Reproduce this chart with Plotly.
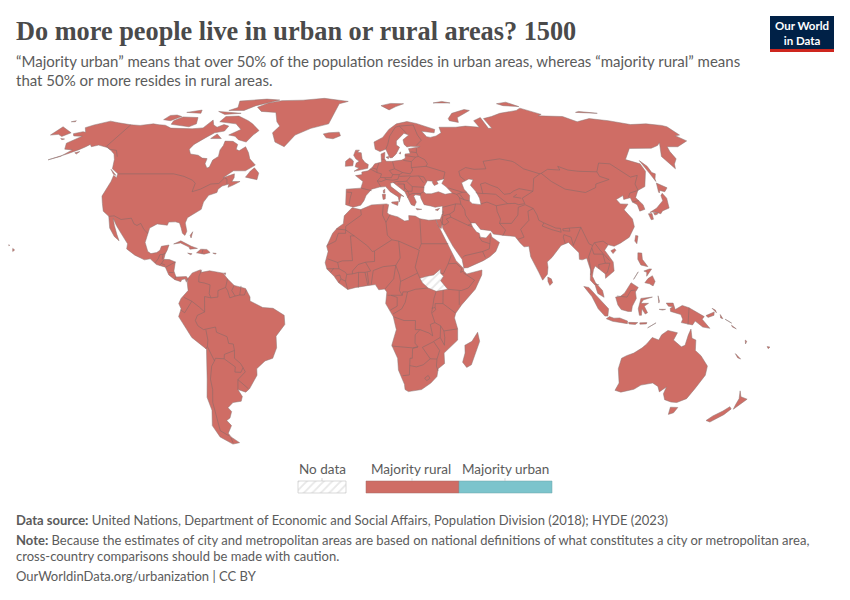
import numpy as np
import plotly.graph_objects as go

# outlines are (lon, lat)
north_america = [(-168,65.6),(-164,66.5),(-162,66.2),(-166,68.3),(-163,69.5),(-156.5,71.3),(-150,70.5),(-141,69.6),(-135,69.3),(-128,70),(-124,69.6),(-120,69.4),(-115,68.1),(-108,68),(-102,67.8),(-96,68.2),(-94,71.8),(-91,69.5),(-88,68.5),(-85,69.7),(-81.5,69),(-82,66.8),(-87,66),(-90,64),(-94,61),(-94.8,59),(-92.5,57),(-88,56.5),(-85,55.3),(-82.3,55.1),(-82,53),(-80,51.3),(-79,51.7),(-79,54.5),(-77,56),(-78,58.7),(-77.5,60.5),(-78,62.4),(-73.5,62.3),(-70,61),(-69.5,59),(-67.5,58.3),(-65,60),(-62,57.5),(-60,55),(-56,52.5),(-60,50.2),(-66,50.2),(-70,47.5),(-65,49),(-64.5,47.5),(-65,46),(-61,46),(-64,44.5),(-66,43.7),(-66,45),(-69,44.2),(-70.5,43),(-70.5,41.7),(-74,40.6),(-75.5,38),(-75.6,35.2),(-78,33.9),(-81,32),(-81.4,30),(-80,26.8),(-80.5,25.2),(-81.8,26),(-82.8,28),(-84,30),(-86,30.4),(-89,30.3),(-89.3,29.1),(-91,29.3),(-94,29.6),(-97,28),(-97.5,25),(-97.8,22.5),(-96,19),(-94.5,18.2),(-92,18.6),(-90.7,19.5),(-90.3,21),(-87,21.5),(-87.5,19.5),(-88.2,18),(-88.5,16),(-86,15.9),(-83.3,15),(-83.6,11.5),(-82.5,9.2),(-80,9.2),(-78,9.4),(-77.3,8.6),(-78,7.5),(-78.5,8.5),(-80,8.2),(-80.3,7.4),(-83,8.2),(-85.7,10),(-87.5,13),(-91.5,14),(-94.5,16.2),(-97,15.8),(-101.5,17.6),(-105.5,20),(-105.5,22),(-109,25.7),(-112.3,29),(-114.7,31.7),(-113.2,29),(-111,25.5),(-109.5,23.1),(-112,24.8),(-115,28),(-117.1,32.5),(-120.5,34.5),(-122.5,37.5),(-124.3,40.3),(-124,46),(-124.6,48.4),(-122.5,47.5),(-123,49),(-127.5,51),(-130.2,54.7),(-133,57),(-136.5,58.5),(-140,59.7),(-146,60.7),(-149,60),(-151,61),(-152,60),(-154,58.8),(-158,57),(-164.5,54.6),(-160,56),(-157.5,58.7),(-162,59),(-165,61.5),(-163,63.2),(-161,64.5),(-166,64.6)]
greenland = [(-73,78.2),(-68,76),(-58,75.5),(-54,71),(-51,69),(-53.5,66),(-50,62),(-44,60),(-40,65),(-32,68),(-22,70),(-20,75),(-18,80),(-12,81.5),(-30,83.5),(-45,82.3),(-60,82),(-68,80.5)]
baffin = [(-80,73.7),(-72,71.5),(-68,70),(-62,67),(-64,65),(-66,62),(-71,63),(-74,64.5),(-78,65),(-73,67.5),(-78,70),(-89,71),(-88,73.5)]
victoria_island = [(-117,69.8),(-105,68.7),(-102,70),(-105,73),(-115,73.3),(-118,71.5)]
banks_island = [(-125,72),(-120,71.5),(-116,73.5),(-120,74.2),(-124,74)]
ellesmere = [(-90,76.5),(-80,76.5),(-75,79),(-62,82.4),(-72,83),(-90,81.7),(-86,78)]
devon_island = [(-96,76),(-80,75),(-90,74.5)]
melville_island = [(-116,75.5),(-106,75),(-108,76.7)]
southampton = [(-85,65.5),(-81,63.5),(-87,63.5)]
newfoundland = [(-59,47.7),(-53,46.7),(-53,49.3),(-56,51.4),(-57.5,50)]
vancouver_island = [(-128,50.8),(-123.5,48.4),(-125,48.8)]
kodiak = [(-154.5,57.5),(-152.5,58),(-153,57)]
st_lawrence = [(-171.5,63.5),(-169,63.3),(-170,63)]
cuba = [(-85,21.9),(-82,23.1),(-77,21),(-74.2,20.2),(-77.5,19.9),(-78,20.7),(-82,22.3)]
hispaniola = [(-74.4,18.5),(-72.7,19.9),(-70,19.8),(-68.4,18.6),(-71,18),(-72,18.2)]
jamaica = [(-78.3,18.4),(-76.3,18.1),(-77,17.8)]
puerto_rico = [(-67.2,18.4),(-65.7,18.3),(-66,18)]
bahamas = [(-78.2,25.2),(-77.3,26.6),(-77.6,24.2)]
trinidad = [(-61.8,10.7),(-60.9,10.8),(-61,10.1)]
hawaii = [(-156,20.2),(-155,19.6),(-155.7,19)]
oahu = [(-158.2,21.6),(-157.7,21.4),(-158,21.2)]
chukotka_west = [(-180,68.7),(-175,67.3),(-170,66),(-172.5,64.4),(-176,65.3),(-180,65)]
wrangel = [(-180,71),(-178,71.5),(-177.5,71)]
iceland = [(-24,65.5),(-22,63.8),(-18,63.4),(-14,64.7),(-15,66.3),(-21,66)]
south_america = [(-77.3,8.6),(-75.5,10.8),(-72,12),(-71.5,11),(-68,11.6),(-62,10.7),(-60,8.5),(-57,6),(-52,4.8),(-50,1.5),(-50,0),(-44.5,-2.5),(-40,-2.8),(-35.2,-5.5),(-35,-9),(-39,-13.5),(-39,-18),(-41,-22),(-44.5,-23),(-48.5,-26),(-48.7,-28.5),(-53,-33.7),(-55,-35),(-58.4,-34),(-57,-36.7),(-58,-38.5),(-62,-39),(-65,-41),(-63.8,-42.5),(-65.5,-45),(-67.5,-46),(-66,-48),(-69,-51),(-68.4,-52.5),(-65.2,-54.8),(-69,-55.4),(-74,-52.5),(-75.5,-48),(-73,-42),(-73.5,-37),(-71.5,-30),(-70,-18.5),(-76,-14),(-81.2,-6),(-80,-3),(-81,-1),(-80,1),(-77,4),(-77.5,7)]
africa = [(-6,35.8),(-2,35.1),(3,36.9),(10,37.3),(11,37),(10.2,34),(11,33.2),(15,32.3),(18,30.7),(20,31),(20,32.8),(23,32.6),(25,31.6),(29,31),(32.3,31.2),(32.6,30),(33.7,27.8),(35.5,24),(37.2,21),(38.5,18),(40,15.5),(43.2,12.5),(43.2,11.5),(44.5,10.4),(51.2,11.9),(51,10),(48,4.5),(42,-1.5),(39.5,-4.7),(39,-6.5),(40.5,-10.7),(40.7,-15),(35,-20),(35.5,-24),(32.8,-26),(32.5,-29),(30,-31.5),(26,-34),(20,-34.8),(18.4,-34),(18,-32),(15,-26.5),(14.5,-22),(11.8,-17),(13.7,-11),(12.3,-6),(9,-1),(9.5,3.5),(8.5,4.6),(6,4.3),(4.5,6.3),(1,5.9),(-4,5.2),(-7.5,4.4),(-11.5,7),(-13.5,9.5),(-16.7,12.3),(-17.5,14.7),(-16.3,19),(-17,21),(-14.5,26),(-12.5,28),(-9.8,29.7),(-9.5,32.7)]
madagascar = [(49.3,-12),(50.4,-15.5),(47.5,-24.5),(45.5,-25.5),(43.5,-23.5),(44.3,-20),(44,-17),(47,-15.5)]
eurasia = [(-9,37),(-9,38.7),(-9,43),(-2,43.4),(-1.2,45),(-1,46),(-4.7,48.3),(-1.5,48.7),(-1.6,49.7),(1.5,50.2),(3.5,51.4),(5,53),(8.5,53.7),(8.5,57),(10.6,57.7),(10.2,55),(11,54),(14,54),(19,54.5),(21,55.2),(21.2,57),(24,57.2),(23.5,59.2),(28,59.7),(30,60),(25,60.2),(22.8,59.9),(21.5,61),(21.3,63),(25,65),(22.5,65.8),(17.5,62.5),(17.2,60.7),(18.8,59.8),(16.5,57),(14.3,55.5),(13,55.4),(11.2,59),(8,58),(5.5,59),(5,62),(10,64),(14,67.5),(19,70),(25.7,71.1),(31,70.2),(41,67.5),(40,66),(35,66.5),(33,66.7),(35,64.3),(37,64),(40.5,64.6),(44,66),(44,68.5),(54,68.5),(60,69),(68,68.5),(67,71.5),(72.5,73),(73,68),(75,68),(74,72.5),(80,73.5),(87,75),(100,76.5),(104.3,77.7),(113,74.5),(110,73.8),(125,73.5),(130,71),(140,72.5),(150,71.5),(160,69.7),(170,70),(178,69.3),(180,68.7),(180,65),(177,64.7),(179.5,62.5),(170.3,60),(164.5,60),(163,58),(162,55),(158.5,52.9),(156.7,51),(155.7,56),(158,58),(163,61.7),(160,60.5),(155,59.4),(143,59.3),(135.3,54.7),(141,53),(140.5,50),(135,44),(132,43),(130.5,42.5),(127.5,39.7),(129.4,37),(129.2,35.2),(126.5,34.5),(126.7,37),(125,38),(125,39.7),(121.5,39),(122,40.5),(118,39),(119,37.3),(122.5,37.2),(119.5,35),(121.8,31.5),(121.5,28.5),(118,24.5),(113.5,22.2),(110.5,21),(108,21.6),(106,19.5),(109,15),(109,11.5),(105,8.7),(105,10.4),(102.5,12.3),(100.9,13.4),(100,12),(99.3,9.5),(100.5,7),(103.4,4),(104,1.4),(101.3,2.9),(100.3,6),(98.3,8),(98.7,12),(97.6,16.4),(95.5,15.8),(94.3,16),(94.5,18.5),(92,21.2),(90.5,22.5),(87,21.3),(85,19.5),(82.3,16.7),(80,15),(80.2,13),(79.7,10.3),(77.5,8),(76,11),(73,17),(72.7,21),(70.5,20.8),(69,22.3),(67,24.8),(62,25.2),(57.5,25.7),(56.5,27),(52,27.5),(50,30),(48,30),(48.5,28.5),(50,26.5),(51.2,26),(51.5,24.5),(54,24.2),(56.3,26.2),(56.7,24.5),(59.8,22.5),(57.8,19),(55,17),(52,15.5),(45,12.8),(43.3,12.7),(42.7,16),(39,21),(35,28),(34.9,29.5),(34.3,27.8),(33.2,28.5),(32.6,30),(32.3,31.2),(34.2,31.3),(35.5,33.5),(36,36.5),(32.5,36),(30.5,36.5),(27.5,37),(26.3,39.5),(26.2,40.5),(24,40.8),(23,40.3),(24,38),(23,36.5),(21.5,37),(19.4,41),(19,42),(13.7,45.6),(12.3,45.3),(12.5,44),(16,41.8),(18.4,40.1),(17,40.5),(16.7,39.7),(16,38),(15.7,40),(12,42),(10,44),(7,43.8),(3.2,43),(0.5,40.5),(-0.5,38.5),(-2,36.8),(-5.5,36)]
great_britain = [(-5.5,50),(1.4,51.2),(1.7,52.7),(0,53.5),(-1.5,55),(-2,57.5),(-4,57.7),(-3,58.6),(-5,58.6),(-6,56.5),(-4.8,55),(-3,54),(-4.5,53.3),(-5,51.8),(-3,51.3)]
ireland = [(-10,52),(-6.2,52.2),(-6,54),(-8,55.3),(-10,54)]
zealand = [(11,55.7),(12.5,56),(12.2,55)]
gotland = [(18.2,57.2),(19,57.9),(18.8,57)]
sicily = [(12.5,38),(15.6,38.2),(15.2,36.7),(12.5,37.6)]
sardinia = [(8.2,41),(9.7,41),(9.5,39.2),(8.5,39)]
corsica = [(8.7,42.5),(9.5,43),(9.4,41.5),(8.8,41.5)]
crete = [(23.6,35.5),(26.2,35.2),(24,35)]
cyprus = [(32.4,35),(34.5,35.6),(33.5,34.7)]
svalbard = [(11,79),(16,76.8),(21,78.5),(27,80),(18,80.2)]
novaya_zemlya = [(52,71.5),(57,70.7),(58,73),(69,76.5),(66,77),(56,75),(52,72.5)]
severnaya_zemlya = [(95,79),(105,78.5),(100,81),(92,80)]
new_siberian = [(137,75.5),(145,75),(150,75),(140,76)]
franz_josef = [(48,80.5),(60,80.5),(55,81.5)]
sakhalin = [(142,54.3),(143.5,52),(143.2,49.5),(144.5,49),(142.5,47),(142,46),(141.8,49),(142,53)]
hokkaido = [(140,42),(141.7,45.4),(145.3,43.5),(143,42),(141,42.5),(140,41.5)]
honshu = [(130.9,34),(135,35.7),(137,37),(139.5,38.5),(140,40.5),(141.3,41.4),(142,39.5),(141,37),(140.7,35.7),(137,34.6),(135.7,33.5),(133,34.3)]
kyushu = [(130,33.5),(131.7,33.6),(131.3,31.4),(130.2,31.2)]
shikoku = [(132.5,34),(134.6,34),(134,33.3),(132.7,33)]
taiwan = [(121,25.2),(122,25),(120.8,22),(120.1,23)]
hainan = [(108.7,19.3),(110.5,20.1),(111,19.5),(109.5,18.2)]
sri_lanka = [(79.8,9.2),(81.3,8.5),(81.8,7),(80.5,6),(79.8,7.5)]
luzon = [(120.5,18.5),(122.2,18.4),(122,16),(124,13.2),(121,13.8),(120,16)]
mindanao = [(122,7),(123.5,8.6),(125.5,9.7),(126.5,7.5),(125.5,5.8),(124,6.6)]
visayas = [(122,11.5),(123.2,11),(123,9.5),(124.5,11),(125.5,12.3),(124.5,12.3)]
palawan = [(117.2,8.3),(119.5,11.2),(119,10.3)]
sumatra = [(95.3,5.6),(97.5,5.2),(100.5,2.2),(103.8,-1),(106,-3),(105.8,-5.8),(104.5,-5.8),(101.5,-3),(98.7,1.7)]
java = [(105.2,-6.8),(106.5,-6),(108.5,-6.6),(111,-6.5),(114.5,-7.7),(114.5,-8.7),(108,-7.8)]
borneo = [(109,1.5),(111,1.7),(113,3.1),(116,7),(119,5.2),(117.7,3.5),(118,1),(116.3,-2),(116,-4),(114.5,-4),(111.5,-3.3),(110,-1.5)]
sulawesi = [(120,1),(125,1.5),(121,0.4),(120,-0.9),(123.3,-0.9),(121.5,-2),(123,-4.5),(122,-5),(120.5,-3),(120.4,-5.5),(119.5,-5.5),(118.9,-3),(119.7,0)]
flores = [(119.9,-8.4),(123,-8.3),(122.8,-8.8),(120,-8.9)]
sumbawa = [(115,-8.2),(119,-8.3),(118,-9),(115.2,-8.8)]
timor = [(123.5,-10.3),(127,-8.4),(125,-9.5)]
halmahera = [(127.5,2),(128,0),(127.8,-0.8)]
seram = [(128,-3.2),(130.8,-3.2),(129.5,-3.5)]
new_guinea = [(131,-0.8),(134,-0.8),(135,-3.3),(138,-1.7),(141,-2.6),(145,-4.5),(147.8,-6),(147,-7),(150.7,-10.5),(147.5,-10),(144,-7.7),(143,-9.2),(138,-8.3),(138.5,-7),(137.5,-5.2),(133,-4),(132.8,-2.8),(134,-2.2),(132,-2)]
new_britain = [(148.5,-5.6),(152,-4.2),(152,-5.5),(149.5,-6.3)]
new_ireland = [(151,-2.8),(153,-4.5),(152.5,-3.5)]
bougainville = [(154.7,-5.2),(156,-6.8),(155,-6.5)]
solomon_a = [(157,-7),(160,-8.5),(159,-8.2)]
solomon_b = [(160,-9.3),(162.3,-10.7),(160.5,-10)]
vanuatu = [(167,-15),(167.5,-16.5),(167.8,-15.5)]
new_caledonia = [(164,-20.2),(167,-22.3),(165.5,-21.8)]
fiji = [(177.3,-17.5),(178.6,-17.7),(178,-18.3)]
australia = [(114,-22),(113.5,-26),(115.7,-31.5),(115,-34.3),(118,-35),(123.5,-33.9),(126,-32.3),(131,-31.5),(134,-32.8),(135.7,-34.9),(138,-33),(138,-35.6),(140,-37.9),(143.5,-38.8),(146.4,-39),(150,-37.5),(151.5,-33.5),(153.5,-28.5),(153,-25),(149,-21),(146,-19),(145.3,-15),(143.5,-14.3),(142.5,-10.8),(141.7,-13),(141,-17),(139.5,-17.6),(135.5,-15),(136.8,-12.2),(132.5,-11.3),(130,-13),(129,-15),(126,-14),(124,-16.5),(122.3,-18),(119,-20),(116,-21)]
tasmania = [(144.7,-40.8),(148.3,-40.9),(148,-43),(146,-43.6)]
nz_north = [(172.7,-34.5),(174.8,-36.8),(178.4,-37.7),(177,-39.5),(175.3,-41.6),(174.7,-39.8),(174.5,-37.5)]
nz_south = [(172.7,-40.6),(174.2,-41.5),(172.8,-43.7),(171,-45),(169,-46.6),(166.5,-46),(168,-44.2),(171,-42.3)]

land = [north_america, greenland, baffin, victoria_island, banks_island, ellesmere, devon_island,
        melville_island, southampton, newfoundland, vancouver_island, kodiak, st_lawrence, cuba,
        hispaniola, jamaica, puerto_rico, bahamas, trinidad, hawaii, oahu, chukotka_west, wrangel,
        iceland, south_america, africa, madagascar, eurasia, great_britain, ireland, zealand, gotland,
        sicily, sardinia, corsica, crete, cyprus, svalbard, novaya_zemlya, severnaya_zemlya,
        new_siberian, franz_josef, sakhalin, hokkaido, honshu, kyushu, shikoku, taiwan, hainan,
        sri_lanka, luzon, mindanao, visayas, palawan, sumatra, java, borneo, sulawesi, flores, sumbawa,
        timor, halmahera, seram, new_guinea, new_britain, new_ireland, bougainville, solomon_a,
        solomon_b, vanuatu, new_caledonia, fiji, australia, tasmania, nz_north, nz_south]

black_sea = [(28,42),(29,41.2),(31.5,41.2),(35,42),(38,41),(41.5,41.5),(39,44),(37.3,45.2),(39,47.1),(35,46.2),(35.5,45.1),(33.5,44.4),(32.8,45.5),(33,46.1),(30.5,46.3),(28.5,44)]
caspian_sea = [(47,45.5),(51,47),(53,46.7),(51,44.5),(53,42),(53.9,39.5),(54,37),(50,37.4),(48.9,38.4),(49.5,40.5),(47.5,43)]
water = [black_sea, caspian_sea]

south_sudan = [(24,8.7),(27,9.5),(30,10),(33,12.2),(33,10.7),(34.3,9.5),(33,7.8),(36,4.5),(34,4.2),(31,3.7),(27.5,5),(25,7)]

borders_north_america = [
    [(-141,69.6),(-141,60.2),(-137.5,58.9),(-133.5,58.5),(-130,55.9)],
    [(-123,49),(-95.2,49),(-89.5,48),(-84.5,46.5),(-82.5,45.3),(-82.5,42),(-79,43),(-76.5,44),(-74.8,45),(-71,45.2),(-69.2,47.4),(-67.8,47),(-67,45)],
    [(-117.1,32.5),(-114.7,32.7),(-111,31.3),(-108.2,31.5),(-106.5,31.8),(-104.5,29.6),(-103,29),(-101.5,29.8),(-99.5,27.5),(-97.2,25.9)],
    [(-92.2,14.6),(-91,16.2),(-90.5,17.8),(-89.1,17.9),(-88.3,18.4)],
    [(-89.1,17.9),(-89.2,15.9)],
    [(-88.5,15.8),(-89.3,14.4),(-90.1,13.8)],
    [(-89.3,14.4),(-87.7,13.8)],
    [(-87.3,13),(-85,14),(-83.2,15)],
    [(-85.7,11),(-83.7,10.9)],
    [(-83,8.3),(-82.6,9.5)],
    [(-72,18.2),(-71.7,19.8)],
]
borders_south_america = [
    [(-77.3,8.6),(-77.9,7.2)],
    [(-71.5,12),(-72.5,9.5),(-72.5,7.3),(-70,6.9),(-67.5,6.2),(-67.8,2.8),(-67,1.2)],
    [(-67,1.2),(-69.8,1.7),(-69.8,-4.2)],
    [(-69.8,-4.2),(-72,-2.4),(-75.3,-0.1)],
    [(-75.3,-0.1),(-78.8,1.4)],
    [(-75.3,-0.1),(-78.5,-4.5),(-80.3,-3.4)],
    [(-67,1.2),(-64,1.5),(-64,4),(-60.7,5.2)],
    [(-60.7,5.2),(-60,8.5)],
    [(-60.7,5.2),(-59.8,4),(-58.8,1.2),(-56.5,1.9)],
    [(-56.5,1.9),(-58,4),(-57,6)],
    [(-56.5,1.9),(-54.5,2.3)],
    [(-54.5,2.3),(-54,5.8)],
    [(-54.5,2.3),(-52.5,2.3),(-51.7,4.2)],
    [(-69.8,-4.2),(-73,-5.5),(-74,-7.5),(-73,-9.5),(-70.6,-11)],
    [(-69.6,-11),(-69,-15),(-69.5,-17.5)],
    [(-69.5,-17.5),(-70.4,-18.4)],
    [(-70.6,-11),(-65.3,-10),(-65,-12),(-60.5,-13.7),(-60,-16.3),(-58,-16.5),(-57.7,-19)],
    [(-57.7,-19),(-59,-19.5),(-62.3,-20.5),(-62.6,-22.2)],
    [(-62.6,-22.2),(-66.5,-22),(-67,-23)],
    [(-69.5,-17.5),(-68.5,-20),(-67,-23)],
    [(-67,-23),(-68.5,-25),(-70,-30),(-70,-34),(-71.5,-39),(-71.8,-45),(-72.5,-50),(-69,-52.2)],
    [(-68.6,-52.7),(-68.6,-54.9)],
    [(-62.6,-22.2),(-58,-25.3),(-58.5,-27.3),(-55.8,-27.4),(-54.6,-25.6)],
    [(-57.7,-19),(-58,-22),(-55.5,-24),(-54.6,-25.6)],
    [(-54.6,-25.6),(-53.8,-27.2),(-57.6,-30.2)],
    [(-57.6,-30.2),(-53.5,-33.7)],
    [(-57.6,-30.2),(-58.4,-34)],
]
borders_africa = [
    [(-2,35.1),(-1.7,33),(-5,31),(-8.7,28.7)],
    [(-8.7,28.7),(-8.7,27.3),(-13,27.7)],
    [(-8.7,27.3),(-8.7,26),(-12,26),(-13,23),(-17,21.3)],
    [(-8.7,27.3),(-4.8,25)],
    [(-4.8,25),(1.2,21.1),(3.2,19),(4.2,19.2)],
    [(-4.8,25),(-6.5,25),(-5.5,15.5),(-10,15.4),(-12,14.8)],
    [(-12,14.8),(-16.5,16.2)],
    [(-12,14.8),(-11.4,12.4)],
    [(-16.7,12.4),(-11.4,12.4)],
    [(-15,11),(-13.7,12.6)],
    [(-13,9.5),(-11,10),(-10.5,8.5)],
    [(-11.4,7),(-10.5,8.5)],
    [(-10.5,8.5),(-8.5,7.6),(-7.5,4.4)],
    [(-11.4,12.4),(-8.5,11),(-8,10.2)],
    [(-8.5,7.6),(-8,10.2)],
    [(-8,10.2),(-5.5,10.4)],
    [(-5.5,10.4),(-5.5,11.5),(-3,14),(0.2,14.9)],
    [(-2.9,5.1),(-2.8,11)],
    [(-5.5,10.4),(-2.8,11),(0,11),(2.5,11.5)],
    [(1.2,6.1),(0,11)],
    [(1.7,6.2),(1,11)],
    [(2.7,6.3),(3.6,11.7)],
    [(3.6,11.7),(8,13.2),(13.5,13.7)],
    [(0.2,14.9),(2.5,11.5)],
    [(0.2,14.9),(4.2,15.2),(4.2,19.2)],
    [(4.2,19.2),(12,23.5)],
    [(12,23.5),(15,23)],
    [(15,23),(15.5,16.5),(13.5,13.7)],
    [(8.5,36.9),(8,33),(9.5,30.2)],
    [(9.5,30.2),(10,25.3),(12,23.5)],
    [(11.5,33.2),(9.5,30.2)],
    [(25,31.6),(25,22)],
    [(25,22),(24,20)],
    [(15,23),(24,19.5)],
    [(24,19.5),(22,13),(23,10.7)],
    [(25,22),(37,22)],
    [(15,10),(15.5,7.5),(19,9),(23,10.7)],
    [(13.5,13.7),(15,10)],
    [(13.5,13.7),(12.5,8.5),(8.7,4.6)],
    [(15.5,7.5),(15,4),(16.2,2.2)],
    [(9.8,2.2),(16.2,2.2)],
    [(11.3,2.2),(14,1.4),(14,-2),(11,-3.5)],
    [(12.2,-5),(16,-3),(17.5,-0.5),(18.5,3.5)],
    [(18.5,3.5),(22,4.5),(27.5,5)],
    [(16.2,2.2),(16.5,3.5),(18.5,3.5)],
    [(23,10.7),(24,8.7)],
    [(31,3.7),(30,1),(29.6,-1.5)],
    [(29.6,-1.5),(29,-4.5),(30.5,-8.3)],
    [(34,4.2),(34,0.5),(33.9,-1)],
    [(30.5,-1),(33.9,-1)],
    [(33.9,-1),(39.5,-4.7)],
    [(29,-2.8),(30.5,-2.5),(30.5,-1)],
    [(29.3,-4.5),(30.8,-3.3),(30.5,-2.5)],
    [(33,10.7),(34.3,10.5),(36.5,14.3)],
    [(36.5,14.3),(38,17.5)],
    [(36.5,14.3),(40,14.5),(42.4,12.5)],
    [(42.4,12.5),(41.8,11),(43.2,11.5)],
    [(43,10.8),(47.8,8),(45,5),(41.9,4)],
    [(36,4.5),(41.9,4)],
    [(41,3.9),(41,-1.5)],
    [(12.3,-6),(17,-7.5),(22,-7.5),(22,-11),(24,-11)],
    [(24,-11),(22,-13),(22,-16.2),(23.4,-17.6)],
    [(11.8,-17.3),(20.9,-18),(23.4,-17.6)],
    [(24,-11),(28,-12.3),(29.7,-13.4),(28.5,-9),(30.5,-8.3)],
    [(30.5,-8.3),(33,-9.5)],
    [(33,-9.5),(34.5,-11.5),(35,-14),(35,-17),(33,-14)],
    [(33,-9.5),(33,-14)],
    [(34.5,-11.5),(40.5,-10.7)],
    [(33,-14),(30.2,-15.5)],
    [(30.2,-15.6),(25.3,-17.8)],
    [(30.2,-15.6),(33,-19),(32,-22.3)],
    [(32,-22.3),(29,-22.2)],
    [(29,-22.2),(25.3,-17.8)],
    [(23.4,-17.6),(21,-18.3),(21,-22),(20,-22),(20,-28.4)],
    [(20,-28.4),(17,-28.7)],
    [(20,-24.8),(23,-25.3),(26,-24.5),(29,-22.2)],
    [(32,-22.3),(31.9,-25),(32.8,-26.8)],
    [(27,-29.6),(28.5,-28.6),(29.4,-29.7),(28,-30.6),(27,-29.6)],
]
borders_europe = [
    [(-1.8,43.4),(3.2,42.4)],
    [(-8.8,41.9),(-6.3,41.7),(-7,39.5),(-7.4,37.2)],
    [(2.5,51),(6,49.5),(8.2,49),(7.6,47.6),(6,46.2),(7.6,44)],
    [(3.4,51.4),(6,50.8)],
    [(7.1,53.3),(6,50.8),(6,49.5)],
    [(8.6,54.9),(10,54.8)],
    [(14.2,53.9),(14.9,51),(12.2,50.3),(13.8,48.7)],
    [(13.8,48.7),(13,47.5),(9.6,47.5),(7.6,47.6)],
    [(6,46.2),(8,46),(10.4,46.8),(9.6,47.5)],
    [(10.4,46.8),(13.7,46.5)],
    [(13.8,48.7),(17,48.7)],
    [(17,48.7),(16.2,46.9),(13.7,46.5)],
    [(14.9,51),(18.8,49.5)],
    [(17,48.7),(18.8,49.5)],
    [(18.8,49.5),(22.5,49),(24,50.5),(23.5,51.5)],
    [(23.5,51.5),(23.9,53.9)],
    [(23.9,53.9),(19.8,54.4)],
    [(21,56.4),(26.5,55.7)],
    [(23.9,53.9),(26.5,55.7)],
    [(24.3,57.9),(27.4,57.6)],
    [(27.8,59.4),(27.4,57.6),(28,56),(26.5,55.7)],
    [(28,56),(31,54.7),(32,53),(31,52)],
    [(23.5,51.5),(31,52)],
    [(31,52),(35,51),(40,49.7),(38.5,47)],
    [(17,48),(22.5,48.2)],
    [(22.5,48),(26.5,48.2),(28.5,45.5)],
    [(26.5,48.2),(29,47.8),(30,46)],
    [(22.8,44),(28.5,43.7)],
    [(22.5,48),(20.3,46.1),(22.8,44)],
    [(22.8,44),(22.5,42.2)],
    [(22.5,41.3),(26.3,41.3),(28,42)],
    [(26.3,41.3),(26.2,40.5)],
    [(20,39.7),(21,40.8),(22.5,41.3)],
    [(19.4,42),(20.5,42.2),(21,40.8)],
    [(20.5,42.2),(22.5,42.2)],
    [(15.8,45),(19,45),(19,43),(18.5,42.5)],
    [(13.6,45.5),(15.5,46),(17,45.9),(19,45.9),(20.3,46.1)],
    [(19,45),(19.2,43.5),(20.5,42.2)],
    [(11.2,59),(12.5,61),(14,64.5),(18,68.5),(20.5,69)],
    [(24,65.8),(20.5,69)],
    [(20.5,69),(25.7,69.5),(29,69.5)],
    [(29,69.5),(30,65),(31.5,62.8),(28,60.5)],
    [(-7.5,55.2),(-6,54.2)],
]
borders_asia = [
    [(36,36),(42.2,37.3)],
    [(42.2,37.3),(44.7,37.2),(44.5,39.7)],
    [(44.5,39.7),(43.5,41),(41.5,41.5)],
    [(40,43.5),(46.5,41.8)],
    [(46.5,41.8),(48.5,41.8)],
    [(43.5,41),(46.5,41.8)],
    [(45,41),(46,39.2),(46.5,38.9)],
    [(44.5,39.7),(46.5,38.9),(48.9,38.4)],
    [(44.7,37.2),(46,35),(46,33),(48,30)],
    [(42.2,37.3),(41,34.5),(38.8,33.4)],
    [(38.8,33.4),(39.2,32.2),(42,31),(46.5,29.1),(48,29.5)],
    [(35.8,32.7),(38.8,33.4)],
    [(39.2,32.2),(37,31.5),(38,30.3),(36,29.2),(34.9,29.5)],
    [(35.5,32.7),(35,29.5)],
    [(35.1,33.1),(35.8,33.3)],
    [(34.3,31.3),(34.9,29.5)],
    [(36,34.6),(35.8,33.3)],
    [(46.5,29.1),(48.4,28.5)],
    [(51,24.6),(52,23),(55.5,22),(55,20),(52,19),(49,18.5),(44,17.4),(43,16.7)],
    [(52,19),(53,16.7)],
    [(55.5,22),(56,24.8)],
    [(53.9,37.3),(57,38),(61,36.6)],
    [(61,36.6),(60.8,34.4),(61.7,31.4),(60.9,29.8)],
    [(60.9,29.8),(63.2,27.2),(61.6,25.1)],
    [(60.9,29.8),(66.3,29.8),(70,33),(71,36),(74.5,37)],
    [(61,36.6),(64.5,37.2),(66.5,37.4),(70,37.5),(71.5,37),(74.5,37.4)],
    [(66.5,37.4),(62,41),(57.5,41.3),(56,41.3)],
    [(56,41.3),(53,41.5),(52.9,42)],
    [(56,45),(56,41.3)],
    [(56,45),(58.5,45.5),(61,44.5),(64,43.5),(66,41),(69,41.3),(71,42.3)],
    [(71,42.3),(74,43.2),(80.2,42.2)],
    [(80.2,42.2),(74,39.5)],
    [(73.5,39.5),(70,40),(72,41)],
    [(74,39.5),(74.5,37.4)],
    [(49,46.4),(47,48),(47,50),(51,51.5),(55,50.8),(61,51),(61,54),(70,55),(76,54),(77,53.5),(80,51),(87,49)],
    [(87,49),(83,47.2),(80.2,42.2)],
    [(87.8,49.2),(92,50.8),(98,50.5),(98,52),(102,50.5),(107,50),(116,49.8)],
    [(87.8,49.2),(91,46),(96,43),(105,41.7),(111,43.6),(112,45),(119.8,46.8),(116,48),(116,49.8)],
    [(87,49),(87.8,49.2)],
    [(116,49.8),(120,53.3),(125.5,53),(131,47.7),(135,48.4),(131,45),(130.6,42.5)],
    [(130.6,42.5),(126,41.5),(124.3,40)],
    [(125,38),(128.4,38.6)],
    [(68.2,23.7),(71,24.5),(70,27.5),(74.5,31),(75,34.5),(77.8,35.5)],
    [(74.5,37),(77.8,35.5)],
    [(77.8,35.5),(78.8,33),(79,31),(81,30)],
    [(81,30),(80,28.8),(84,27.4),(88,26.4),(88,27.9),(86,28),(81,30)],
    [(89,27),(92,26.8),(92,28),(89,27.7),(89,27)],
    [(92,28),(97.3,28.3)],
    [(97.3,28.3),(94,24),(92.5,21.5)],
    [(92.5,21.2),(92,24.5),(89,25.5),(88.5,24.5),(89,22)],
    [(97.3,28.3),(98.5,24.5),(99.5,22),(101,21.3)],
    [(101,21.3),(98.5,17),(99,11),(98.5,10)],
    [(101,21.3),(102,22.4),(106,23),(108,21.6)],
    [(102,22.4),(104,19.5),(107.5,15.5)],
    [(100.5,20.3),(101,18),(105,18),(105.5,14.5)],
    [(102.5,12.3),(102.5,14),(105.5,14.5),(107.5,14.5),(106,11),(105,10.4)],
    [(100.2,6.5),(102,6.2)],
    [(109.6,1.9),(114,1.5),(115.7,4),(117.5,4.2)],
    [(141,-2.6),(141,-9.1)],
]
borders = borders_north_america + borders_south_america + borders_africa + borders_europe + borders_asia

legend_labels = ["No data", "Majority rural", "Majority urban"]
legend_colors = ["#ffffff", "#cf6d65", "#7cc4cc"]

title = "Do more people live in urban or rural areas? 1500"
subtitle = ["“Majority urban” means that over 50% of the population resides in urban areas, whereas “majority rural” means",
            "that 50% or more resides in rural areas."]
source = "<b>Data source:</b> United Nations, Department of Economic and Social Affairs, Population Division (2018); HYDE (2023)"
note = ["<b>Note:</b> Because the estimates of city and metropolitan areas are based on national definitions of what constitutes a city or metropolitan area,",
        "cross-country comparisons should be made with caution."]
footer = "OurWorldinData.org/urbanization | CC BY"

# Robinson projection table
rob_lat = np.arange(0, 95, 5)
rob_plen = [1, .9986, .9954, .99, .9822, .973, .96, .9427, .9216, .8962, .8679, .835, .7986, .7597, .7186, .6732, .6213, .5722, .5322]
rob_pdfe = [0, .062, .124, .186, .248, .31, .372, .434, .4958, .5571, .6176, .6769, .7346, .7903, .8435, .8936, .9394, .9761, 1]
X0, Y0, SX, SY = 365, 301, 2.3, 210

GREY = "#5b5b5b"
RURAL = legend_colors[1]
EDGE = "#8d7674"


def project(points):
    lon = np.array([p[0] for p in points], dtype=float)
    lat = np.array([p[1] for p in points], dtype=float)
    xs = X0 + SX * lon * np.interp(np.abs(lat), rob_lat, rob_plen)
    ys = Y0 - SY * np.sign(lat) * np.interp(np.abs(lat), rob_lat, rob_pdfe)
    return xs, ys


def add_area(fig, points, fill, pattern=None):
    xs, ys = project(list(points) + [points[0]])
    fig.add_trace(go.Scatter(x=xs, y=ys, mode="lines", fill="toself", fillcolor=fill,
                             fillpattern=pattern, line=dict(color=EDGE, width=0.5),
                             hoverinfo="skip", showlegend=False))


fig = go.Figure()

for shape in land:
    add_area(fig, shape, RURAL)
for sea in water:
    add_area(fig, sea, "#ffffff")

# internal borders as one trace
bx, by = [], []
for line in borders:
    xs, ys = project(line)
    bx += list(xs) + [None]
    by += list(ys) + [None]
fig.add_trace(go.Scatter(x=bx, y=by, mode="lines", line=dict(color="#8a6a68", width=0.6),
                         hoverinfo="skip", showlegend=False))

hatch = dict(shape="/", fgcolor="#cfcfcf", bgcolor="#ffffff", size=6, solidity=0.3)
add_area(fig, south_sudan, "#ffffff", hatch)

# legend boxes
fig.add_trace(go.Scatter(x=[298, 346, 346, 298, 298], y=[481, 481, 493, 493, 481], mode="lines",
                         fill="toself", fillpattern=hatch, line=dict(color="#c8c8c8", width=0.7),
                         hoverinfo="skip", showlegend=False))
shapes = [
    dict(type="rect", x0=366, x1=459, y0=481, y1=493, fillcolor=legend_colors[1], line=dict(color="#a06a65", width=0.5)),
    dict(type="rect", x0=459, x1=552, y0=481, y1=493, fillcolor=legend_colors[2], line=dict(color="#6ea5ab", width=0.5)),
    # little ticks between labels and keys
    dict(type="line", x0=322, x1=322, y0=478, y1=481, line=dict(color="#c4c4c4", width=0.7)),
    dict(type="line", x0=412, x1=412, y0=478, y1=481, line=dict(color="#c4c4c4", width=0.7)),
    dict(type="line", x0=505, x1=505, y0=478, y1=481, line=dict(color="#c4c4c4", width=0.7)),
    # logo
    dict(type="rect", x0=770, x1=834, y0=16, y1=49, fillcolor="#002147", line_width=0),
    dict(type="rect", x0=770, x1=834, y0=49, y1=52, fillcolor="#ce261e", line_width=0),
]


def text(x, y, s, size, color=GREY, family="Lato", anchor="left"):
    return dict(x=x, y=y, text=s, showarrow=False, xanchor=anchor, yanchor="middle",
                font=dict(family=family, size=size, color=color))


annotations = [
    text(14, 31, "<b>" + title + "</b>", 26.3, "#4a4a4a", "Liberation Serif"),
    text(14, 61, subtitle[0], 15),
    text(14, 80, subtitle[1], 15),
    text(322, 469, legend_labels[0], 13.5, anchor="center"),
    text(411, 469, legend_labels[1], 13.5, anchor="center"),
    text(505, 469, legend_labels[2], 13.5, anchor="center"),
    text(14, 520, source, 13),
    text(14, 540, note[0], 13),
    text(14, 556, note[1], 13),
    text(14, 576, footer, 13),
    text(802, 33, "<b>Our World<br>in Data</b>", 11.5, "#ffffff", anchor="center"),
]

# the page keeps an 8px body margin, so the axes start at 8
fig.update_layout(
    width=842, height=592,
    margin=dict(l=0, r=0, t=0, b=0),
    paper_bgcolor="#ffffff", plot_bgcolor="#ffffff",
    xaxis=dict(range=[8, 850], visible=False, fixedrange=True),
    yaxis=dict(range=[600, 8], visible=False, fixedrange=True),
    shapes=shapes, annotations=annotations,
)
fig.write_html("out.html", config={"displayModeBar": False})
